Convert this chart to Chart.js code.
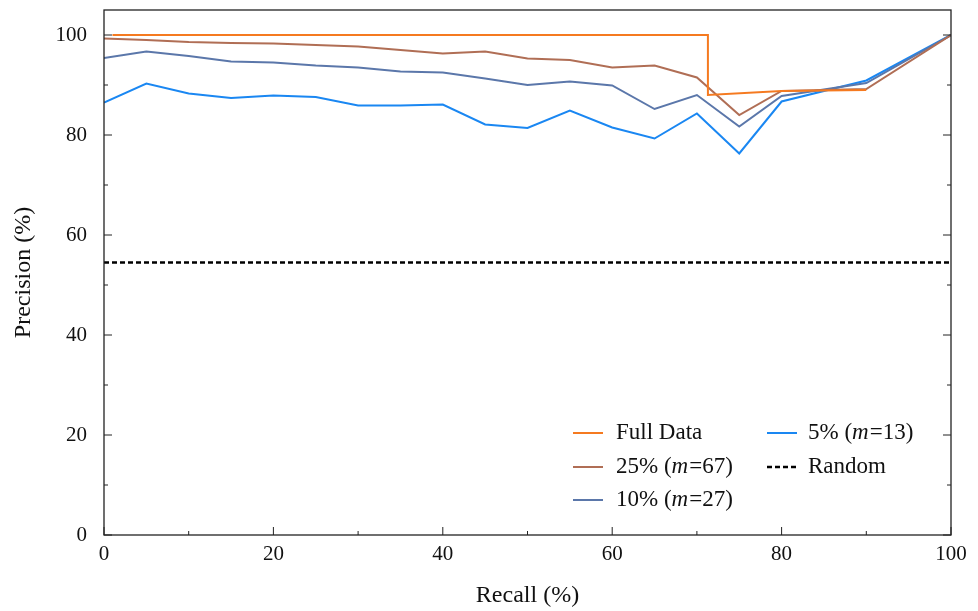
<!DOCTYPE html>
<html>
<head>
<meta charset="utf-8">
<script src="https://cdn.jsdelivr.net/npm/chart.js@4.4.1/dist/chart.umd.min.js"></script>
<style>
html,body{margin:0;padding:0;background:#fff;}
#wrap{width:978px;height:611px;position:relative;}
</style>
</head>
<body>
<div id="wrap"><canvas id="c" width="978" height="611"></canvas></div>
<script>
// ---- data ----
const recall = [0,5,10,15,20,25,30,35,40,45,50,55,60,65,70,75,80,90,100];
const fullRecall = [1,71.3,71.3,80,90];
const fullData = [100,100,88,88.8,89.0];
const p25 = [99.3,99.0,98.6,98.4,98.3,98.0,97.7,97.0,96.3,96.7,95.3,95.0,93.5,93.9,91.5,84.0,88.8,89.2,100];
const p10 = [95.4,96.7,95.8,94.7,94.5,93.9,93.5,92.7,92.5,91.3,90.0,90.7,89.9,85.2,88.0,81.7,87.8,90.4,100];
const p5  = [86.5,90.3,88.3,87.4,87.9,87.6,85.9,85.9,86.1,82.1,81.4,84.9,81.5,79.3,84.3,76.3,86.7,90.9,100];
const randomRecall = [0,100];
const randomPrec = [54.5,54.5];
const xTicks = [0,20,40,60,80,100];
const yTicks = [0,20,40,60,80,100];
const labels = ['Full Data','25% (m=67)','10% (m=27)','5% (m=13)','Random'];

const FONT = '"Liberation Serif", "DejaVu Serif", serif';
const TXT = '#111';

function pts(xs, ys){ return xs.map((x,i)=>({x:x,y:ys[i]})); }

// draws text where "m" inside parentheses is italic
function richText(ctx, str, x, y, size){
  const m = str.match(/^(.*\()m(=.*)$/);
  ctx.textAlign='left'; ctx.textBaseline='middle';
  if(!m){ ctx.font = size+'px '+FONT; ctx.fillText(str,x,y); return; }
  ctx.font = size+'px '+FONT; ctx.fillText(m[1],x,y); x += ctx.measureText(m[1]).width;
  ctx.font = 'italic '+size+'px '+FONT; ctx.fillText('m',x,y); x += ctx.measureText('m').width+1;
  ctx.font = size+'px '+FONT; ctx.fillText(m[2],x,y);
}

const framePlugin = {
  id:'frame',
  afterDatasetsDraw(chart){
    const ctx = chart.ctx, a = chart.chartArea;
    const xs = chart.scales.x, ys = chart.scales.y;
    ctx.save();
    ctx.strokeStyle = '#222'; ctx.lineWidth = 1.3;
    ctx.strokeRect(a.left, a.top, a.right-a.left, a.bottom-a.top);
    ctx.lineWidth = 1;
    for(let v=0; v<=100; v+=10){
      const len = (v%20===0)?8:4;
      const py = ys.getPixelForValue(v);
      ctx.beginPath();
      ctx.moveTo(a.left, py); ctx.lineTo(a.left+len, py);
      ctx.moveTo(a.right, py); ctx.lineTo(a.right-len, py);
      ctx.stroke();
      const px = xs.getPixelForValue(v);
      ctx.beginPath();
      ctx.moveTo(px, a.bottom); ctx.lineTo(px, a.bottom-len);
      ctx.stroke();
    }
    // legend
    const ds = chart.data.datasets;
    const slots = [[573,433],[573,467],[573,500],[767,433],[767,467]];
    ds.forEach((d,i)=>{
      const [lx,ly] = slots[i];
      ctx.strokeStyle = d.borderColor; ctx.lineWidth = d.borderWidth;
      ctx.setLineDash(d.borderDash||[]);
      ctx.beginPath(); ctx.moveTo(lx,ly); ctx.lineTo(lx+30,ly); ctx.stroke();
      ctx.setLineDash([]);
      ctx.fillStyle = TXT;
      richText(ctx, d.label, lx+(i<3?43:41), ly, 23);
    });
    ctx.restore();
  }
};

new Chart(document.getElementById('c'), {
  type:'line',
  data:{
    datasets:[
      {label:labels[0], data:pts(fullRecall,fullData), borderColor:'#f57a20', borderWidth:2},
      {label:labels[1], data:pts(recall,p25), borderColor:'#b06e55', borderWidth:2},
      {label:labels[2], data:pts(recall,p10), borderColor:'#5b77aa', borderWidth:2},
      {label:labels[3], data:pts(recall,p5), borderColor:'#1a87f2', borderWidth:2},
      {label:labels[4], data:pts(randomRecall,randomPrec), borderColor:'#000', borderWidth:2.4, borderDash:[5,3]}
    ]
  },
  options:{
    responsive:false, animation:false,
    layout:{padding:{left:0,right:27,top:10,bottom:0}},
    elements:{point:{radius:0}, line:{tension:0}},
    plugins:{legend:{display:false}, tooltip:{enabled:false}},
    scales:{
      x:{type:'linear', min:0, max:100,
        afterBuildTicks(s){ s.ticks = xTicks.map(v=>({value:v})); },
        afterFit(s){ s.height = 76; s.paddingLeft = 0; s.paddingRight = 0; },
        grid:{display:false, drawTicks:false}, border:{display:false},
        ticks:{padding:7, color:TXT, font:{family:FONT, size:21}, maxRotation:0},
        title:{display:true, text:'Recall (%)', color:TXT, font:{family:FONT, size:24}, padding:{top:1,bottom:1}}
      },
      y:{type:'linear', min:0, max:105,
        afterBuildTicks(s){ s.ticks = yTicks.map(v=>({value:v})); },
        afterFit(s){ s.width = 104; s.paddingTop = 0; s.paddingBottom = 0; },
        grid:{display:false, drawTicks:false}, border:{display:false},
        ticks:{padding:17, color:TXT, font:{family:FONT, size:21}},
        title:{display:true, text:'Precision (%)', color:TXT, font:{family:FONT, size:24}, padding:{top:9,bottom:0}}
      }
    }
  },
  plugins:[framePlugin]
});
</script>
</body>
</html>
